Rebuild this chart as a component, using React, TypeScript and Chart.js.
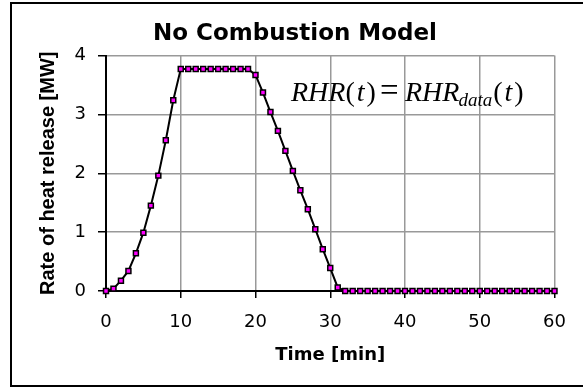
import React, { useEffect, useRef } from "react";
import { Chart, registerables } from "chart.js";

Chart.register(...registerables);

// ---- data ----
const TIME_MIN = [
  0, 1, 2, 3, 4, 5, 6, 7, 8, 9, 10, 11, 12, 13, 14, 15, 16, 17, 18, 19, 20,
  21, 22, 23, 24, 25, 26, 27, 28, 29, 30, 31, 32, 33, 34, 35, 36, 37, 38, 39, 40,
  41, 42, 43, 44, 45, 46, 47, 48, 49, 50, 51, 52, 53, 54, 55, 56, 57, 58, 59, 60,
];
const RHR_MW = [
  0, 0.04, 0.175, 0.34, 0.64, 0.99, 1.45, 1.96, 2.56, 3.24, 3.77,
  3.77, 3.77, 3.77, 3.77, 3.77, 3.77, 3.77, 3.77, 3.77, 3.67,
  3.37, 3.04, 2.72, 2.38, 2.04, 1.71, 1.39, 1.05, 0.71, 0.39,
  0.06, 0, 0, 0, 0, 0, 0, 0, 0, 0,
  0, 0, 0, 0, 0, 0, 0, 0, 0, 0,
  0, 0, 0, 0, 0, 0, 0, 0, 0, 0,
];
const X_RANGE = [0, 60];
const X_STEP = 10;
const Y_RANGE = [0, 4];
const Y_STEP = 1;

const TITLE = "No Combustion Model";
const X_LABEL = "Time [min]";
const Y_LABEL = "Rate of heat release [MW]";

const overlayPlugin = {
  id: "overlayText",
  afterDraw(chart: any) {
    const ctx = chart.ctx as CanvasRenderingContext2D;
    ctx.save();
    ctx.fillStyle = "#000";
    // title
    ctx.font = 'bold 23px "DejaVu Sans"';
    ctx.textAlign = "center";
    ctx.textBaseline = "alphabetic";
    ctx.fillText(TITLE, 295, 40);
    // formula RHR(t) = RHR_data(t)
    ctx.textAlign = "left";
    const big = 'italic 28px "Liberation Serif"';
    const up = '28px "Liberation Serif"';
    const eq = '33px "Liberation Serif"';
    const sub = 'italic 19px "Liberation Serif"';
    const seg = (text: string, font: string, x: number, y: number) => {
      ctx.font = font;
      ctx.fillText(text, x, y);
      return x + ctx.measureText(text).width;
    };
    const yb = 101;
    let x = seg("RHR", big, 291, yb);
    x = seg("(", up, x, yb);
    x = seg("t", big, x + 2, yb);
    seg(")", up, x + 2, yb);
    seg("=", eq, 380, yb);
    x = seg("RHR", big, 405, yb);
    x = seg("data", sub, x - 1, 106);
    x = seg("(", up, x + 1, yb);
    x = seg("t", big, x + 2, yb);
    seg(")", up, x + 2, yb);
    ctx.restore();
  },
};

export default function App() {
  const ref = useRef<HTMLCanvasElement | null>(null);

  useEffect(() => {
    if (!ref.current) return;
    const points = TIME_MIN.map((t, i) => ({ x: t, y: RHR_MW[i] }));
    const chart = new Chart(ref.current, {
      type: "line",
      data: {
        datasets: [
          {
            data: points,
            borderColor: "#000",
            borderWidth: 2,
            tension: 0,
            pointStyle: "rect",
            pointRadius: 3.5,
            pointBorderWidth: 1.5,
            pointBorderColor: "#000",
            pointBackgroundColor: "#ff00ff",
            clip: false as any,
          },
        ],
      },
      options: {
        responsive: false,
        animation: false,
        events: [],
        layout: { padding: { left: 0, right: 28.5, top: 55.5, bottom: 17 } },
        plugins: {
          legend: { display: false },
          tooltip: { enabled: false },
          title: { display: false },
        },
        scales: {
          x: {
            type: "linear",
            min: X_RANGE[0],
            max: X_RANGE[1],
            ticks: {
              stepSize: X_STEP,
              color: "#000",
              padding: 14,
              font: { family: '"DejaVu Sans"', size: 18 },
            },
            grid: {
              color: "#999999",
              lineWidth: 1.5,
              tickColor: "#000",
              tickLength: 7,
            },
            border: { color: "#000", width: 2 },
            title: {
              display: true,
              text: X_LABEL,
              color: "#000",
              font: { family: '"DejaVu Sans"', size: 18, weight: "bold" },
              padding: { top: 0, bottom: 5 },
            },
            afterFit: (s: any) => {
              s.height = 80;
            },
          },
          y: {
            type: "linear",
            min: Y_RANGE[0],
            max: Y_RANGE[1],
            ticks: {
              stepSize: Y_STEP,
              color: "#000",
              padding: 12,
              font: { family: '"DejaVu Sans"', size: 18 },
            },
            grid: {
              color: "#999999",
              lineWidth: 1.5,
              tickColor: "#000",
              tickLength: 8,
            },
            border: { color: "#000", width: 2 },
            title: {
              display: true,
              text: Y_LABEL,
              color: "#000",
              font: { family: '"Liberation Sans"', size: 20, weight: "bold" },
              padding: { top: 36.5, bottom: 0 },
            },
            afterFit: (s: any) => {
              s.width = 106;
            },
          },
        },
      },
      plugins: [overlayPlugin],
    });
    return () => chart.destroy();
  }, []);

  return (
    <div
      style={{
        position: "absolute",
        left: 0,
        top: 0,
        width: 583,
        height: 388,
        overflow: "hidden",
        background: "#fff",
      }}
    >
      <div
        style={{
          position: "absolute",
          left: 10,
          top: 2,
          width: 600,
          height: 385,
          border: "2px solid #000",
          boxSizing: "border-box",
        }}
      />
      <canvas
        ref={ref}
        width={583}
        height={388}
        style={{ position: "absolute", left: 0, top: 0, width: 583, height: 388 }}
      />
    </div>
  );
}
